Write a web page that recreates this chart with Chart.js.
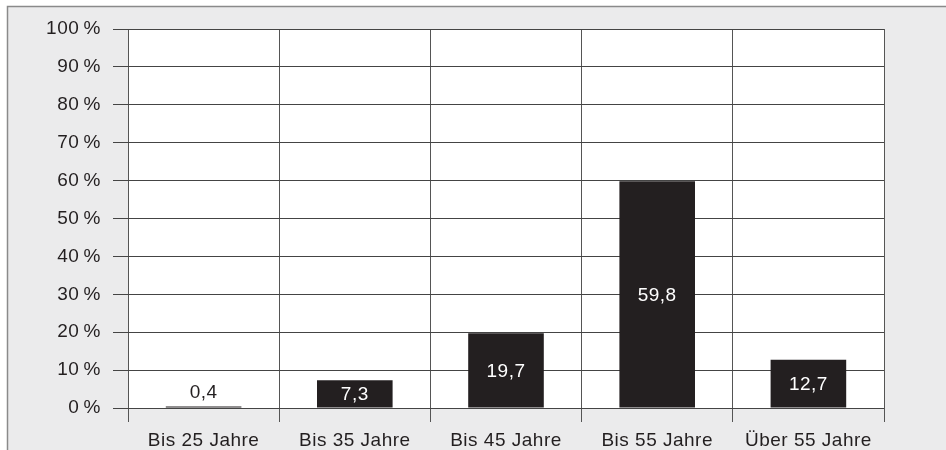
<!DOCTYPE html>
<html>
<head>
<meta charset="utf-8">
<script src="https://cdn.jsdelivr.net/npm/chart.js@4/dist/chart.umd.min.js"></script>
<style>
    html, body { margin: 0; padding: 0; background: #ffffff; }
    #wrap { position: relative; width: 946px; height: 450px; }
</style>
</head>
<body>
<div id="wrap"><canvas id="ageChart" width="946" height="450"></canvas></div>
<script>
// Data
const categories = ['Bis 25 Jahre', 'Bis 35 Jahre', 'Bis 45 Jahre', 'Bis 55 Jahre', 'Über 55 Jahre'];
const shares = [0.4, 7.3, 19.7, 59.8, 12.7];
const yTicks = [0, 10, 20, 30, 40, 50, 60, 70, 80, 90, 100];

const FONT = '"Liberation Sans", Arial, sans-serif';
const SPACING = '0.5px';

// grey frame + white plot area
const framePlugin = {
    id: 'frame',
    beforeDraw(chart) {
        const c = chart.ctx;
        const area = chart.chartArea;
        c.letterSpacing = SPACING;
        c.save();
        c.fillStyle = '#ffffff';
        c.fillRect(0, 0, chart.width, chart.height);
        c.fillStyle = '#ebebec';
        c.fillRect(7, 6, chart.width - 7, chart.height - 6);
        c.strokeStyle = '#8a8a8a';
        c.lineWidth = 1.5;
        c.beginPath();
        c.moveTo(7.5, chart.height);
        c.lineTo(7.5, 6.5);
        c.lineTo(chart.width, 6.5);
        c.stroke();
        c.fillStyle = '#ffffff';
        c.fillRect(area.left, area.top, area.right - area.left, area.bottom - area.top);
        c.restore();
    }
};

// value labels: white inside the bar, dark above it when the bar is too short
const valueLabels = {
    id: 'valueLabels',
    afterDatasetsDraw(chart) {
        const c = chart.ctx;
        const meta = chart.getDatasetMeta(0);
        c.save();
        c.letterSpacing = SPACING;
        c.font = '19px ' + FONT;
        c.textAlign = 'center';
        c.textBaseline = 'middle';
        meta.data.forEach((bar, i) => {
            const txt = String(shares[i]).replace('.', ',');
            const h = bar.base - bar.y;
            if (h < 20) {
                c.fillStyle = '#231f20';
                c.fillText(txt, bar.x, bar.y - 14);
            } else {
                c.fillStyle = '#ffffff';
                c.fillText(txt, bar.x, (bar.y + bar.base) / 2 + 1);
            }
        });
        c.restore();
    }
};

const ctx = document.getElementById('ageChart').getContext('2d');

const chart = new Chart(ctx, {
    type: 'bar',
    data: {
        labels: categories,
        datasets: [{
            data: shares,
            backgroundColor: '#231f20',
            borderWidth: 0,
            barPercentage: 0.5,
            categoryPercentage: 1.0,
        }],
    },
    options: {
        responsive: false,
        animation: false,
        layout: {
            padding: { left: 0, right: 62, top: 29, bottom: 0 },
        },
        plugins: {
            legend: { display: false },
            tooltip: { enabled: false },
        },
        scales: {
            x: {
                offset: true,
                afterFit(axis) {
                    axis.height = 42;
                },
                grid: {
                    offset: true,
                    color: '#555555',
                    lineWidth: 1,
                    tickLength: 14,
                },
                border: { display: false },
                ticks: {
                    color: '#231f20',
                    font: { family: FONT, size: 19 },
                    padding: 7,
                    maxRotation: 0,
                },
            },
            y: {
                min: 0,
                max: 100,
                afterBuildTicks(axis) {
                    axis.ticks = yTicks.map((v) => ({ value: v }));
                },
                afterFit(axis) {
                    axis.width = 128;
                },
                grid: {
                    color: '#444444',
                    lineWidth: 1,
                    tickLength: 15,
                },
                border: { display: false },
                ticks: {
                    color: '#231f20',
                    font: { family: FONT, size: 19 },
                    padding: 12,
                    callback: (v) => v + '\u2009%',
                },
            },
        },
    },
    plugins: [framePlugin, valueLabels],
});
</script>
</body>
</html>
